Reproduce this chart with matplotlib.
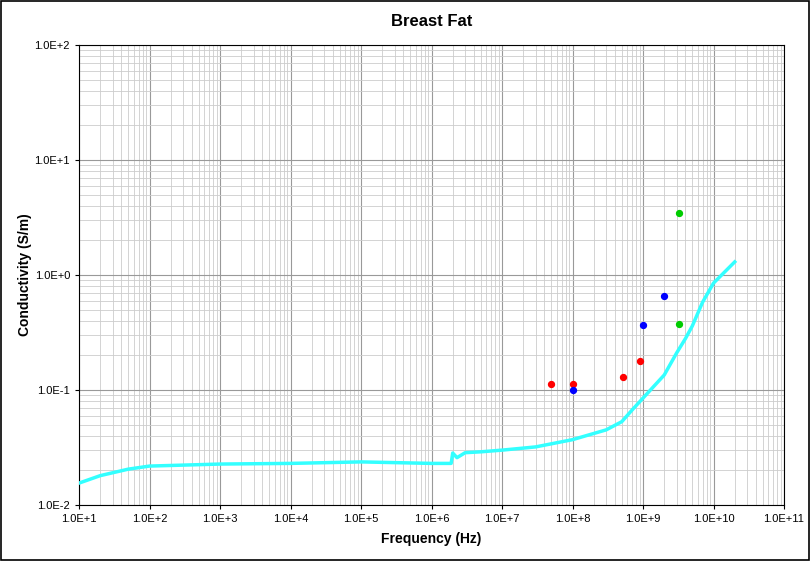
import numpy as np
import matplotlib.pyplot as plt
from matplotlib.ticker import LogLocator, NullFormatter

plt.rcParams["font.family"] = "Liberation Sans"

# model curve (frequency Hz, conductivity S/m)
curve_f = [1e1, 2e1, 5e1, 1e2, 1e3, 1e4, 1e5, 1e6, 1.9e6, 2.0e6, 2.3e6, 3e6, 5e6,
           1e7, 3e7, 1e8, 3e8, 5e8, 7e8, 1e9, 2e9, 3e9, 4e9, 5e9, 7e9, 1e10, 2e10]
curve_s = [0.0155, 0.018, 0.0205, 0.0218, 0.0227, 0.023, 0.0237, 0.023, 0.023, 0.0283,
           0.0258, 0.0285, 0.029, 0.030, 0.032, 0.037, 0.045, 0.053, 0.067, 0.085,
           0.135, 0.21, 0.28, 0.36, 0.58, 0.85, 1.3]

red_f = [5e7, 1e8, 5.2e8, 9e8]
red_s = [0.113, 0.113, 0.13, 0.18]
blue_f = [1e8, 1e9, 2e9]
blue_s = [0.10, 0.367, 0.66]
green_f = [3.2e9, 3.2e9]
green_s = [3.45, 0.375]

xtick_labels = ["1.0E+%d" % e for e in range(1, 12)]
ytick_labels = ["1.0E-2", "1.0E-1", "1.0E+0", "1.0E+1", "1.0E+2"]

fig = plt.figure(figsize=(8.11, 5.61), dpi=100)
fig.patches.append(plt.Rectangle((0.001, 0.001), 0.997, 0.997, transform=fig.transFigure,
                                 fill=False, edgecolor="black", linewidth=1.2))
ax = fig.add_axes([79 / 811, 1 - 505 / 561, 705 / 811, 460 / 561])
ax.set_xscale("log")
ax.set_yscale("log")
ax.set_xlim(1e1, 1e11)
ax.set_ylim(1e-2, 1e2)

ax.plot(curve_f, curve_s, color="#33ffff", linewidth=2.5, zorder=3)
ax.scatter(red_f, red_s, color="#ff0000", s=18, zorder=4)
ax.scatter(blue_f, blue_s, color="#0000ff", s=18, zorder=4)
ax.scatter(green_f, green_s, color="#00cc00", s=18, zorder=4)

ax.xaxis.set_minor_locator(LogLocator(base=10, subs=np.arange(2, 10), numticks=20))
ax.yaxis.set_minor_locator(LogLocator(base=10, subs=np.arange(2, 10), numticks=20))
ax.set_xticks([10.0 ** e for e in range(1, 12)])
ax.set_xticklabels(xtick_labels)
ax.set_yticks([10.0 ** e for e in range(-2, 3)])
ax.set_yticklabels(ytick_labels)
ax.xaxis.set_minor_formatter(NullFormatter())
ax.yaxis.set_minor_formatter(NullFormatter())
ax.tick_params(labelsize=8, which="both", length=3)
ax.tick_params(which="minor", length=0)

ax.grid(True, which="major", color="#999999", linewidth=0.8)
ax.grid(True, which="minor", color="#cccccc", linewidth=0.6)
ax.set_axisbelow(True)
for sp in ax.spines.values():
    sp.set_color("black")

ax.set_title("Breast Fat", fontsize=12, fontweight="bold", pad=14)
ax.set_xlabel("Frequency (Hz)", fontsize=10, fontweight="bold", labelpad=6)
ax.set_ylabel("Conductivity (S/m)", fontsize=10, fontweight="bold", labelpad=2)

fig.savefig("out.png", dpi=100)
